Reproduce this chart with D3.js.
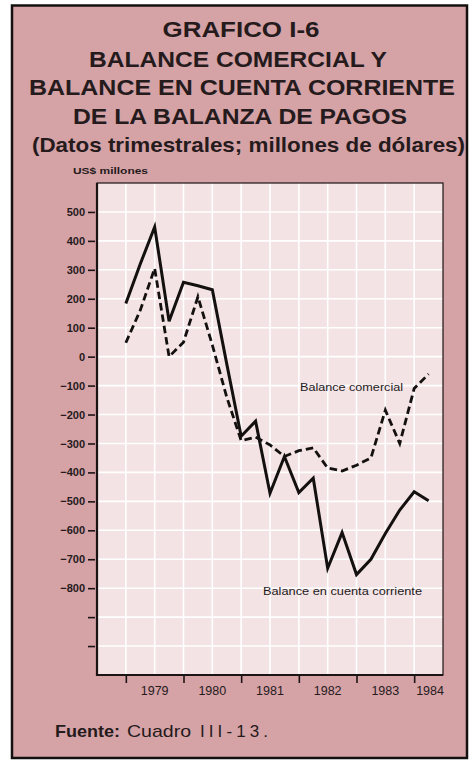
<!DOCTYPE html>
<html><head><meta charset="utf-8">
<script src="https://cdn.jsdelivr.net/npm/d3@7"></script>
<style>html,body{margin:0;padding:0;background:#fff;}svg{display:block;}</style>
</head><body>
<script>
// quarterly data, 1979-I .. 1984-II
const quarters = ["1979-I","1979-II","1979-III","1979-IV","1980-I","1980-II","1980-III","1980-IV",
  "1981-I","1981-II","1981-III","1981-IV","1982-I","1982-II","1982-III","1982-IV",
  "1983-I","1983-II","1983-III","1983-IV","1984-I","1984-II"];
const balanceComercial = [48,160,305,0,50,207,40,-140,-290,-278,-305,-345,-325,-315,-385,-395,-375,-350,-185,-300,-110,-60];
const cuentaCorriente = [184,320,448,122,257,245,231,-25,-275,-223,-472,-345,-470,-420,-731,-608,-753,-700,-611,-530,-467,-498];
const years = ["1979","1980","1981","1982","1983","1984"];
const yTickValues = [500,400,300,200,100,0,-100,-200,-300,-400,-500,-600,-700,-800,-900,-1000];
const yLabelled = [500,400,300,200,100,0,-100,-200,-300,-400,-500,-600,-700,-800];
const titleLines = ["GRAFICO I-6","BALANCE COMERCIAL Y","BALANCE EN CUENTA CORRIENTE","DE LA BALANZA DE PAGOS","(Datos trimestrales; millones de dólares)"];

const W = 472, H = 760;
const pink = "#d5a2a6", plotBg = "#f3e3e4", ink = "#251a1c";
const FF = "'Liberation Sans', Arial, sans-serif";
const svg = d3.select("body").append("svg").attr("width", W).attr("height", H);

svg.append("rect").attr("x",12).attr("y",5.5).attr("width",455).attr("height",752.5)
  .attr("fill",pink).attr("stroke","#151010").attr("stroke-width",2.5);

// title
const tl = [
  {y:37, w:157, cx:241, fs:22.5},
  {y:66.5, w:298, cx:238, fs:22.5},
  {y:95, w:426, cx:242, fs:22.5},
  {y:123.5, w:334, cx:240, fs:22.5},
  {y:152, w:433, cx:248.5, fs:21}
];
titleLines.forEach((t,i)=>{
  svg.append("text").attr("x",tl[i].cx - tl[i].w/2).attr("y",tl[i].y)
    .attr("font-family",FF).attr("font-weight","bold")
    .attr("font-size",tl[i].fs).attr("fill",ink)
    .attr("textLength",tl[i].w).attr("lengthAdjust","spacingAndGlyphs").text(t);
});

const L = 97, R = 443, T = 183, B = 675;
const x = d3.scaleLinear().domain([-2, 22]).range([L, R]);
const y = d3.scaleLinear().domain([-1100, 600]).range([B, T]);

svg.append("rect").attr("x",L).attr("y",T).attr("width",R-L).attr("height",B-T).attr("fill",plotBg);

// grid
const g = svg.append("g");
g.selectAll("line.v").data(d3.range(0, 22, 2)).join("line")
  .attr("x1",d=>x(d)).attr("x2",d=>x(d)).attr("y1",T).attr("y2",B)
  .attr("stroke","#ffffff").attr("stroke-width",1.6);
g.selectAll("line.h").data(d3.range(-1000, 600, 100)).join("line")
  .attr("y1",d=>y(d)).attr("y2",d=>y(d)).attr("x1",L).attr("x2",R)
  .attr("stroke","#ffffff").attr("stroke-width",1.6);

// frame
svg.append("rect").attr("x",L).attr("y",T).attr("width",R-L).attr("height",B-T)
  .attr("fill","none").attr("stroke","#1c1414").attr("stroke-width",1.2);
svg.append("line").attr("x1",L).attr("x2",L).attr("y1",T).attr("y2",B+1).attr("stroke","#1c1414").attr("stroke-width",2.2);
svg.append("line").attr("x1",L-1).attr("x2",R).attr("y1",B).attr("y2",B).attr("stroke","#1c1414").attr("stroke-width",2.2);

// y axis
const yAxis = d3.axisLeft(y).tickValues(yTickValues).tickSize(7).tickPadding(3)
  .tickFormat(d => yLabelled.includes(d) ? d3.format("d")(d) : "");
const ya = svg.append("g").attr("transform",`translate(${L-2},0)`).call(yAxis);
ya.select(".domain").remove();
ya.selectAll(".tick line").attr("stroke","#1c1414").attr("stroke-width",1.6);
ya.selectAll(".tick text").attr("font-family",FF)
  .attr("font-weight","bold").attr("font-size",11).attr("fill",ink);

svg.append("text").attr("x",73).attr("y",174).attr("font-family",FF)
  .attr("font-weight","bold").attr("font-size",9.5).attr("fill",ink)
  .attr("textLength",75).attr("lengthAdjust","spacingAndGlyphs").text("US$ millones");

// x axis: year boundaries
const xa = svg.append("g").attr("transform",`translate(0,${B})`)
  .call(d3.axisBottom(x).tickValues(years.map((d,i)=>i*4)).tickSize(8).tickFormat(""));
xa.select(".domain").remove();
xa.selectAll(".tick line").attr("stroke","#1c1414").attr("stroke-width",1.6);
svg.selectAll("text.yr").data(years).join("text")
  .attr("x",(d,i)=> i < years.length-1 ? x(i*4+2) : x(i*4)+2)
  .attr("y",694.5).attr("text-anchor",(d,i)=> i < years.length-1 ? "middle" : "start")
  .attr("font-family",FF).attr("font-size",12.5)
  .attr("fill",ink).text(d=>d);

// lines
const line = d3.line().x((d,i)=>x(i)).y(d=>y(d));
svg.append("path").datum(balanceComercial).attr("d",line).attr("fill","none")
  .attr("stroke","#141010").attr("stroke-width",2.8).attr("stroke-dasharray","7.5,4")
  .attr("stroke-linejoin","miter");
svg.append("path").datum(cuentaCorriente).attr("d",line).attr("fill","none")
  .attr("stroke","#141010").attr("stroke-width",3).attr("stroke-linejoin","miter");

// line labels
svg.append("text").attr("x",300).attr("y",391).attr("font-family",FF)
  .attr("font-size",11.5).attr("fill",ink).attr("textLength",103).attr("lengthAdjust","spacingAndGlyphs")
  .text("Balance comercial");
svg.append("text").attr("x",263).attr("y",595).attr("font-family",FF)
  .attr("font-size",11.5).attr("fill",ink).attr("textLength",159).attr("lengthAdjust","spacingAndGlyphs")
  .text("Balance en cuenta corriente");

// source
svg.append("text").attr("x",55).attr("y",737).attr("font-family",FF)
  .attr("font-size",17).attr("font-weight","bold").attr("fill",ink)
  .attr("textLength",65).attr("lengthAdjust","spacingAndGlyphs").text("Fuente:");
svg.append("text").attr("x",127).attr("y",737).attr("font-family",FF)
  .attr("font-size",17).attr("fill",ink)
  .attr("textLength",64).attr("lengthAdjust","spacingAndGlyphs").text("Cuadro");
svg.append("text").attr("x",200).attr("y",737).attr("font-family",FF)
  .attr("font-size",17).attr("fill",ink)
  .attr("textLength",68).attr("lengthAdjust","spacing").text("III-13.");
</script>
</body></html>
